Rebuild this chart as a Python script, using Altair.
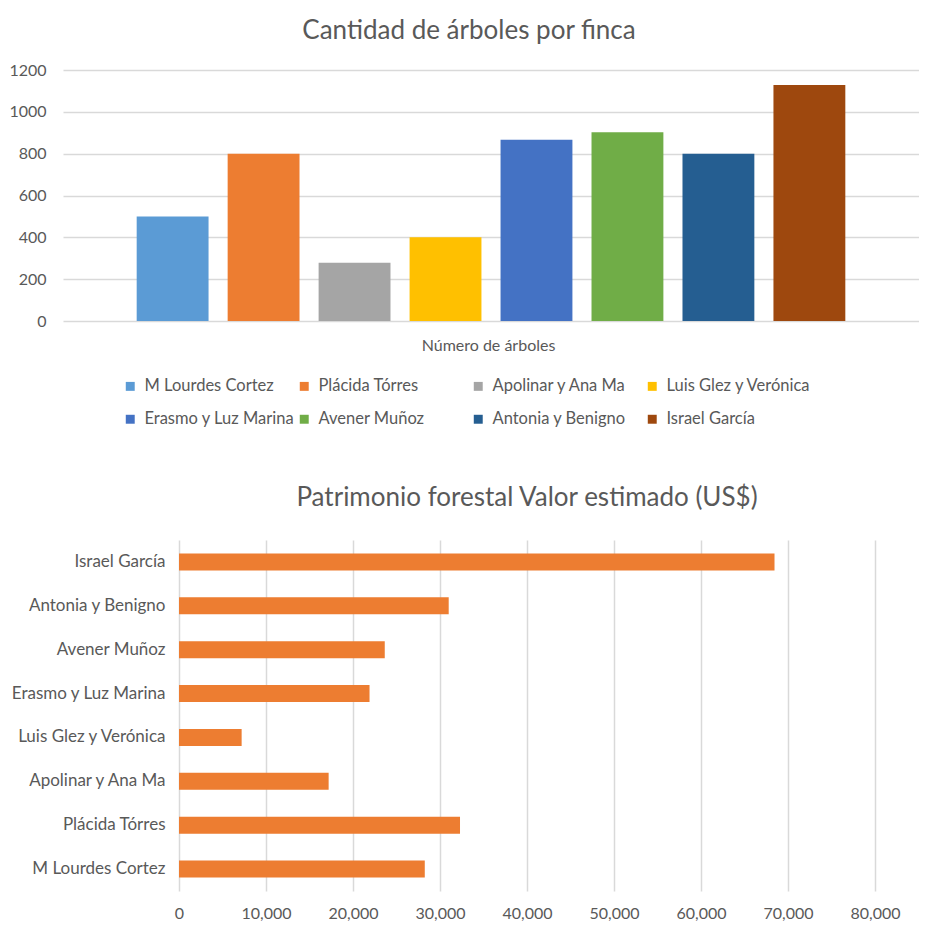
import altair as alt
import pandas as pd

names = ["M Lourdes Cortez", "Plácida Tórres", "Apolinar y Ana Ma", "Luis Glez y Verónica",
         "Erasmo y Luz Marina", "Avener Muñoz", "Antonia y Benigno", "Israel García"]
trees = [500, 800, 278, 400, 867, 902, 800, 1128]
value_usd = [28250, 32300, 17200, 7200, 21900, 23650, 31000, 68450]
colors = ["#5B9BD5", "#ED7D31", "#A5A5A5", "#FFC000", "#4472C4", "#70AD47", "#255E91", "#9E480E"]
tree_ticks = [0, 200, 400, 600, 800, 1000, 1200]
usd_ticks = [0, 10000, 20000, 30000, 40000, 50000, 60000, 70000, 80000]

df = pd.DataFrame({"finca": names, "arboles": trees, "valor": value_usd})

FONT = "Lato"
TXT = "#595959"
GRID = "#D9D9D9"

top = alt.Chart(df).mark_bar().encode(
    x=alt.X("finca:N", sort=names,
            scale=alt.Scale(paddingInner=0.21, paddingOuter=0.81),
            axis=alt.Axis(labels=False, ticks=False, domain=False, title="Número de árboles",
                          titleFontWeight="normal", titleFontSize=16, titleColor=TXT,
                          titleFont=FONT, titlePadding=16, titleX=425)),
    y=alt.Y("arboles:Q", scale=alt.Scale(domain=[0, 1200]),
            axis=alt.Axis(values=tree_ticks, format="d", title=None, domain=False, ticks=False,
                          grid=True, gridColor=GRID, gridWidth=1.5, labelPadding=17,
                          labelFontSize=16, labelColor=TXT, labelFont=FONT)),
    color=alt.Color("finca:N", sort=names, scale=alt.Scale(domain=names, range=colors),
                    legend=alt.Legend(title=None, orient="none", legendX=59, legendY=308,
                                      direction="horizontal", columns=4, gridAlign="all",
                                      symbolType="square", symbolSize=80, symbolStrokeWidth=0,
                                      labelFontSize=16.5, labelColor=TXT, labelFont=FONT,
                                      rowPadding=16, columnPadding=1, labelOffset=6,
                                      labelLimit=300)),
).properties(
    width=856, height=251,
    title=alt.TitleParams("Cantidad de árboles por finca", fontSize=26, fontWeight="normal",
                          color=TXT, font=FONT, anchor="middle", offset=18, dx=-22),
)

# bottom plot area shares the top's left edge; the value scale starts 116 px in
bottom = alt.Chart(df).mark_bar(color="#ED7D31").encode(
    y=alt.Y("finca:N", sort=names[::-1],
            scale=alt.Scale(paddingInner=0.61, paddingOuter=0.305),
            axis=alt.Axis(title=None, ticks=False, domain=False, labelPadding=14, offset=-116,
                          labelFontSize=17, labelColor=TXT, labelFont=FONT, labelLimit=300)),
    x=alt.X("valor:Q", scale=alt.Scale(domain=[0, 80000], range=[116, 812]),
            axis=alt.Axis(values=usd_ticks, format=",.0f", title=None, ticks=False, domain=False,
                          grid=True, gridColor=GRID, gridWidth=1.5, labelPadding=14,
                          labelFlush=False, labelFontSize=16, labelColor=TXT, labelFont=FONT)),
).properties(
    width=812, height=351,
    title=alt.TitleParams("Patrimonio forestal Valor estimado (US$)", fontSize=26,
                          fontWeight="normal", color=TXT, font=FONT, anchor="middle",
                          frame="group", offset=29, dx=58),
)

chart = alt.vconcat(top, bottom, spacing=132).properties(
    padding={"left": 0, "top": 10, "right": 0, "bottom": 0},
    background="white",
).configure_view(stroke=None)

chart.save("out.html", embed_options={"renderer": "svg", "actions": False})
